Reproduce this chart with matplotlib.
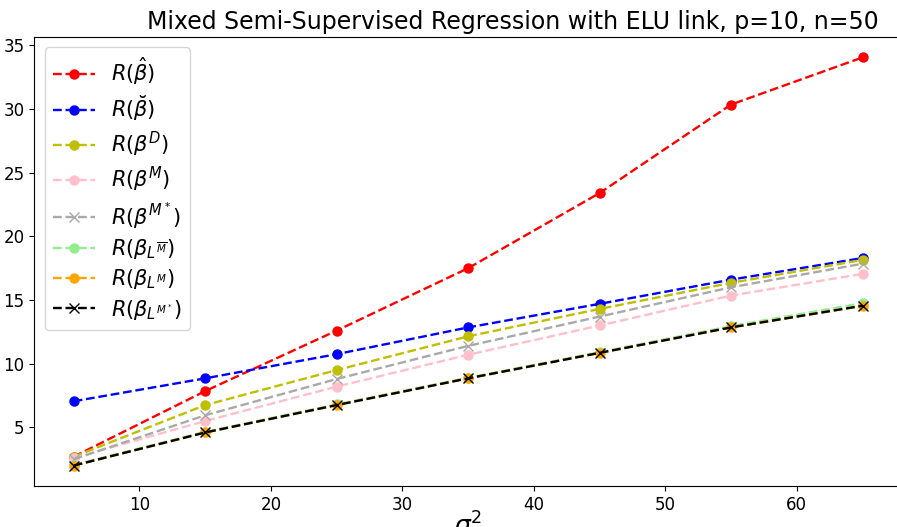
import matplotlib
matplotlib.use("Agg")
import matplotlib.pyplot as plt

sigma2 = [5, 15, 25, 35, 45, 55, 65]
r_hat = [2.7, 7.85, 12.6, 17.5, 23.4, 30.35, 34.05]
r_breve = [7.05, 8.85, 10.75, 12.85, 14.7, 16.6, 18.3]
r_D = [2.7, 6.75, 9.5, 12.15, 14.3, 16.35, 18.15]
r_M = [2.6, 5.5, 8.2, 10.7, 13.0, 15.35, 17.05]
r_Mstar = [2.5, 5.95, 8.8, 11.4, 13.7, 16.0, 17.85]
r_Lbar = [2.05, 4.65, 6.8, 8.9, 10.9, 12.95, 14.75]
r_LM = [2.0, 4.6, 6.75, 8.85, 10.85, 12.85, 14.55]
r_LMstar = [2.0, 4.6, 6.75, 8.85, 10.85, 12.85, 14.55]

labels = [r'$R(\hat{\beta})$', r'$R(\breve{\beta})$', r'$R(\beta^D)$', r'$R(\beta^M)$',
          r'$R(\beta^{M^*})$', r'$R(\beta_{L^{\overline{M}}})$', r'$R(\beta_{L^M})$',
          r'$R(\beta_{L^{M^*}})$']

fig = plt.figure(figsize=(8.97, 5.27), dpi=100)
ax = fig.add_axes([0.0382, 0.0778, 0.9674, 0.852])

series = [(r_hat, 'r', 'o'), (r_breve, 'b', 'o'), (r_D, 'y', 'o'), (r_M, 'pink', 'o'),
          (r_Mstar, 'darkgray', 'x'), (r_Lbar, 'lightgreen', 'o'), (r_LM, 'orange', 'o'),
          (r_LMstar, 'k', 'x')]
for (vals, c, m), lab in zip(series, labels):
    ax.plot(sigma2, vals, linestyle='--', color=c, marker=m, label=lab,
            linewidth=1.7, markersize=6.5)

ax.set_title('Mixed Semi-Supervised Regression with ELU link, p=10, n=50', fontsize=17,
             x=0.552)
ax.set_xlabel(r'$\sigma^2$', fontsize=18, labelpad=-1)
ax.tick_params(labelsize=12)
ax.legend(loc='upper left', fontsize=15, labelspacing=0.3, handlelength=2.0)
fig.savefig('out.png', dpi=100)
